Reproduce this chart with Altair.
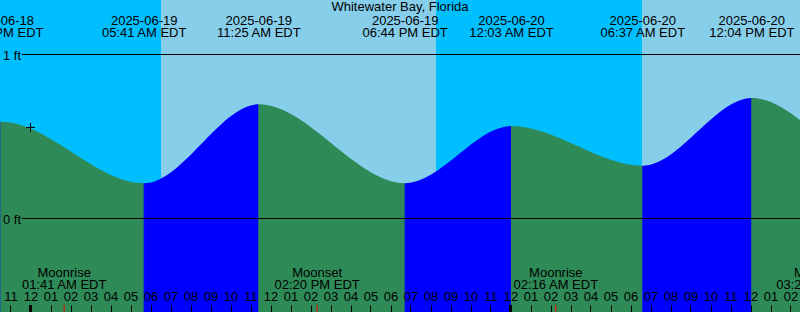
import altair as alt
import pandas as pd

FONT = "Liberation Sans"
FS = 13
DAY = "#87CEEB"
NIGHT = "#00BFFF"
RISING = "#0000FF"
FALLING = "#2E8B57"

title_text = "Whitewater Bay, Florida"

# Tide extremes (EDT) and heights in feet (first two and last two are off-screen estimates)
tide_times = ["2025-06-18T10:40:00", "2025-06-18T16:20:00", "2025-06-18T22:31:00",
              "2025-06-19T05:41:00", "2025-06-19T11:25:00", "2025-06-19T18:44:00",
              "2025-06-20T00:03:00", "2025-06-20T06:37:00", "2025-06-20T12:04:00",
              "2025-06-20T19:25:00", "2025-06-21T00:50:00"]
tide_heights = [0.68, 0.30, 0.59, 0.215, 0.696, 0.215, 0.564, 0.322, 0.735, 0.20, 0.55]
tide_dates = ["2025-06-18", "2025-06-18", "2025-06-18", "2025-06-19", "2025-06-19",
              "2025-06-19", "2025-06-20", "2025-06-20", "2025-06-20", "2025-06-20",
              "2025-06-21"]
tide_labels = ["10:40 AM EDT", "04:20 PM EDT", "10:31 PM EDT", "05:41 AM EDT",
               "11:25 AM EDT", "06:44 PM EDT", "12:03 AM EDT", "06:37 AM EDT",
               "12:04 PM EDT", "07:25 PM EDT", "12:50 AM EDT"]

# Sun events
sun_times = ["2025-06-18T20:17:00", "2025-06-19T06:32:00", "2025-06-19T20:17:00",
             "2025-06-20T06:35:00", "2025-06-20T20:18:00"]
sun_kinds = ["sunset", "sunrise", "sunset", "sunrise", "sunset"]

# Moon events
moon_times = ["2025-06-19T01:41:00", "2025-06-19T14:20:00", "2025-06-20T02:16:00",
              "2025-06-20T15:25:00"]
moon_events = ["Moonrise", "Moonset", "Moonrise", "Moonset"]
moon_labels = ["01:41 AM EDT", "02:20 PM EDT", "02:16 AM EDT", "03:25 PM EDT"]

midnights = ["2025-06-19T00:00:00", "2025-06-20T00:00:00"]

now_time = ["2025-06-19T00:00:00"]
now_height = [0.555]

ft_values = [0, 1]
ft_labels = ["0 ft", "1 ft"]

# visible time window and hourly ticks
window = ["2025-06-18T22:28:30", "2025-06-20T14:28:30"]
hour_ticks = ["2025-06-18T23:00:00", "2025-06-20T14:00:00"]

Y_MIN, Y_MAX = -0.57012, 1.33232

# ---------------------------------------------------------------
ORIGIN = pd.Timestamp("2025-06-19T00:00:00")


def hrs(ts):
    return [(pd.Timestamp(t) - ORIGIN).total_seconds() / 3600.0 for t in ts]


win = hrs(window)
th = hrs(tide_times)
tides = pd.DataFrame({"h": th, "height": tide_heights,
                      "date": tide_dates, "label": tide_labels})
# labels only for extremes whose label can reach the visible window
tide_lab = tides[(tides.h > win[0] - 3) & (tides.h < win[1] + 3)]
segs = pd.DataFrame({
    "start": th[:-1],
    "end": th[1:],
    "dir": ["rising" if tide_heights[i + 1] > tide_heights[i] else "falling"
            for i in range(len(tide_heights) - 1)],
})
moon = pd.DataFrame({"h": hrs(moon_times), "event": moon_events, "label": moon_labels})
mid = pd.DataFrame({"h": hrs(midnights)})
now = pd.DataFrame({"h": hrs(now_time), "height": now_height})
ft = pd.DataFrame({"ft": ft_values, "label": ft_labels})
ttl = pd.DataFrame({"t": [title_text]})

# sky gradient (day / night) along the tide area's extent
h0, h1 = th[0], th[-1]
state = DAY
stops = [alt.GradientStop(offset=0, color=state)]
for hh, k in zip(hrs(sun_times), sun_kinds):
    off = (hh - h0) / (h1 - h0)
    if 0 < off < 1:
        new = NIGHT if k == "sunset" else DAY
        stops.append(alt.GradientStop(offset=off, color=state))
        stops.append(alt.GradientStop(offset=off, color=new))
        state = new
stops.append(alt.GradientStop(offset=1, color=state))
sky_grad = alt.LinearGradient(gradient="linear", stops=stops, x1=0, x2=1, y1=0, y2=0)

tk = hrs(hour_ticks)
tick_values = list(range(int(round(tk[0])), int(round(tk[1])) + 1))

x_scale = alt.Scale(domain=win, nice=False, zero=False)
y_scale = alt.Scale(domain=[Y_MIN, Y_MAX], nice=False, zero=False)

AX = alt.Axis(orient="top", offset=-312, domain=False, grid=False, ticks=True,
              tickSize=7, tickColor="black", tickWidth=1, labelFont=FONT,
              labelFontSize=FS, labelColor="black", labelPadding=4.5,
              labelBaseline="alphabetic", labelAlign="center", values=tick_values,
              labelExpr="format((((datum.value % 12) + 12) % 12) || 12, '02d')",
              labelOverlap=False, labelFlush=False, title=None, zindex=1)


def X(field):
    return alt.X(field, type="quantitative", scale=x_scale, axis=AX)


dir_scale = alt.Scale(domain=["rising", "falling"], range=[RISING, FALLING])
rects = alt.Chart(segs).mark_rect(strokeWidth=1).encode(
    x=X("start"), x2="end:Q",
    color=alt.Color("dir:N", scale=dir_scale, legend=None),
    stroke=alt.Stroke("dir:N", scale=dir_scale, legend=None))

sky = alt.Chart(tides).mark_area(interpolate="monotone", color=sky_grad, clip=True).encode(
    x=X("h"), y=alt.Y("height:Q", scale=y_scale, axis=None), y2=alt.datum(Y_MAX))

ft_rules = alt.Chart(ft).mark_rule(color="black", strokeWidth=1).encode(
    y=alt.Y("ft:Q", scale=y_scale, axis=None), x=alt.value(22), x2=alt.value(800))

ft_text = alt.Chart(ft).mark_text(font=FONT, fontSize=FS, color="black", align="right",
                                  baseline="alphabetic", dy=5).encode(
    y=alt.Y("ft:Q", scale=y_scale, axis=None), x=alt.value(21), text="label:N")

title = alt.Chart(ttl).mark_text(font=FONT, fontSize=FS, color="black", align="center",
                                 baseline="alphabetic").encode(
    x=alt.value(400), y=alt.value(11), text="t:N")

tide_date_text = alt.Chart(tide_lab).mark_text(font=FONT, fontSize=FS, color="black",
                                               align="center", baseline="alphabetic").encode(
    x=X("h"), y=alt.value(24.5), text="date:N")
tide_time_text = alt.Chart(tide_lab).mark_text(font=FONT, fontSize=FS, color="black",
                                               align="center", baseline="alphabetic").encode(
    x=X("h"), y=alt.value(36.5), text="label:N")

moon_ev_text = alt.Chart(moon).mark_text(font=FONT, fontSize=FS, color="black",
                                         align="center", baseline="alphabetic").encode(
    x=X("h"), y=alt.value(277), text="event:N")
moon_time_text = alt.Chart(moon).mark_text(font=FONT, fontSize=FS, color="black",
                                           align="center", baseline="alphabetic").encode(
    x=X("h"), y=alt.value(289), text="label:N")

mid_ticks = alt.Chart(mid).mark_rule(color="black", strokeWidth=3).encode(
    x=X("h"), y=alt.value(305), y2=alt.value(312))
moon_ticks = alt.Chart(moon).mark_rule(color="#FF0000", strokeWidth=1).encode(
    x=X("h"), y=alt.value(305), y2=alt.value(312))

now_mark = alt.Chart(now).mark_point(shape="M-1,0L1,0M0,-1L0,1", size=81, filled=False,
                                     stroke="black", strokeWidth=1, opacity=1).encode(
    x=X("h"), y=alt.Y("height:Q", scale=y_scale, axis=None))

chart = alt.layer(rects, sky, ft_rules, ft_text, title, tide_date_text, tide_time_text,
                  moon_ev_text, moon_time_text, mid_ticks, moon_ticks, now_mark).properties(
    width=800, height=312, padding=0, autosize="none", background="white"
).configure_view(stroke=None)

chart.save("out.html", embed_options={"renderer": "svg", "actions": False})
